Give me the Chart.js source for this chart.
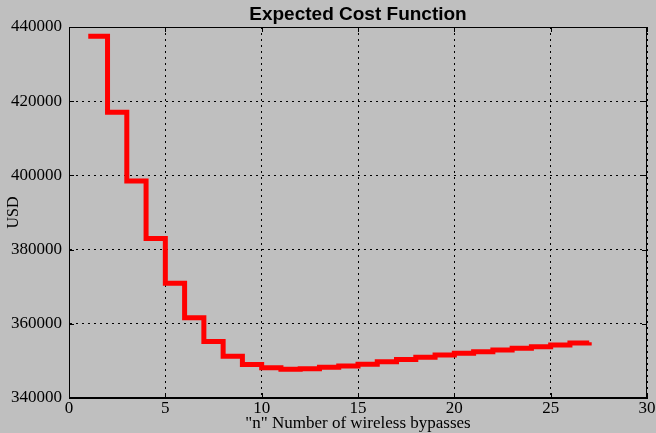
<!DOCTYPE html>
<html>
<head>
<meta charset="utf-8">
<script src="https://cdn.jsdelivr.net/npm/chart.js@4"></script>
<style>
  html, body { margin: 0; padding: 0; background: #bfbfbf; }
  #wrap { width: 656px; height: 433px; }
</style>
</head>
<body>
<div id="wrap"><canvas id="costChart" width="656" height="433"></canvas></div>
<script>
// number of wireless bypasses
const nValues = [1, 2, 3, 4, 5, 6, 7, 8, 9, 10, 11, 12, 13, 14, 15, 16, 17, 18, 19, 20, 21, 22, 23, 24, 25, 26, 27];
// expected cost (USD)
const costValues = [
  437500, 417000, 398500, 383000, 370900, 361650, 355200, 351250, 349000, 348170,
  347740, 347900, 348280, 348630, 349080, 349750, 350400, 350970, 351590, 352050,
  352480, 352940, 353400, 353830, 354280, 354800, 355000
];
const xTicks = [0, 5, 10, 15, 20, 25, 30];
const yTicks = [340000, 360000, 380000, 400000, 420000, 440000];

const serif = "'Liberation Serif', 'Times New Roman', serif";

// box round the plot plus inward tick marks, like the original
const frame = {
  id: "frame",
  afterDraw(chart) {
    const { ctx, chartArea: a, scales } = chart;
    ctx.save();
    ctx.strokeStyle = "#000";
    ctx.lineWidth = 1;
    ctx.setLineDash([]);
    ctx.strokeRect(a.left + 0.5, a.top + 0.5, a.right - a.left - 1, a.bottom - a.top - 1);
    ctx.beginPath();
    xTicks.forEach((t) => {
      const px = Math.round(scales.x.getPixelForValue(t)) + 0.5;
      ctx.moveTo(px, a.bottom); ctx.lineTo(px, a.bottom - 5);
      ctx.moveTo(px, a.top); ctx.lineTo(px, a.top + 5);
    });
    yTicks.forEach((t) => {
      const py = Math.round(scales.y.getPixelForValue(t)) + 0.5;
      ctx.moveTo(a.left, py); ctx.lineTo(a.left + 5, py);
      ctx.moveTo(a.right, py); ctx.lineTo(a.right - 5, py);
    });
    ctx.stroke();
    ctx.restore();
  },
};

new Chart(document.getElementById("costChart"), {
  type: "line",
  data: {
    datasets: [{
      label: "Expected cost",
      data: nValues.map((n, i) => ({ x: n, y: costValues[i] })),
      borderColor: "#ff0000",
      backgroundColor: "#ff0000",
      borderWidth: 5,
      stepped: true,
      pointRadius: 0,
      fill: false,
      borderCapStyle: "butt",
      borderJoinStyle: "miter",
    }],
  },
  options: {
    responsive: false,
    animation: false,
    layout: { padding: { top: 0, right: 9, bottom: 0, left: 0 } },
    plugins: {
      legend: { display: false },
      tooltip: { enabled: false },
      title: {
        display: true,
        text: "Expected Cost Function",
        fullSize: false,
        color: "#000",
        font: { family: "'Liberation Sans', Arial, sans-serif", size: 19, weight: "bold", lineHeight: 1.2 },
        padding: { top: 3, bottom: 1.2 },
      },
    },
    scales: {
      x: {
        type: "linear",
        min: 0,
        max: 30,
        afterBuildTicks: (s) => { s.ticks = xTicks.map((v) => ({ value: v })); },
        afterFit: (s) => { s.height = 35; },
        ticks: { color: "#000", padding: 0, font: { family: serif, size: 17 }, maxRotation: 0 },
        grid: { color: "#000", lineWidth: 1, drawTicks: false },
        border: { display: true, color: "#000", dash: [2, 4] },
        title: {
          display: true,
          text: '"n" Number of wireless bypasses',
          color: "#000",
          font: { family: serif, size: 17, lineHeight: 1.1 },
          padding: { top: 0, bottom: 0 },
        },
      },
      y: {
        min: 340000,
        max: 440000,
        afterBuildTicks: (s) => { s.ticks = yTicks.map((v) => ({ value: v })); },
        afterFit: (s) => { s.width = 69; },
        ticks: { color: "#000", padding: 7, font: { family: serif, size: 17 }, callback: (v) => String(v) },
        grid: { color: "#000", lineWidth: 1, drawTicks: false },
        border: { display: true, color: "#000", dash: [2, 4] },
        title: {
          display: true,
          text: "USD",
          color: "#000",
          font: { family: serif, size: 16, lineHeight: 1.2 },
          padding: { top: 4, bottom: 0 },
        },
      },
    },
  },
  plugins: [frame],
});
</script>
</body>
</html>
